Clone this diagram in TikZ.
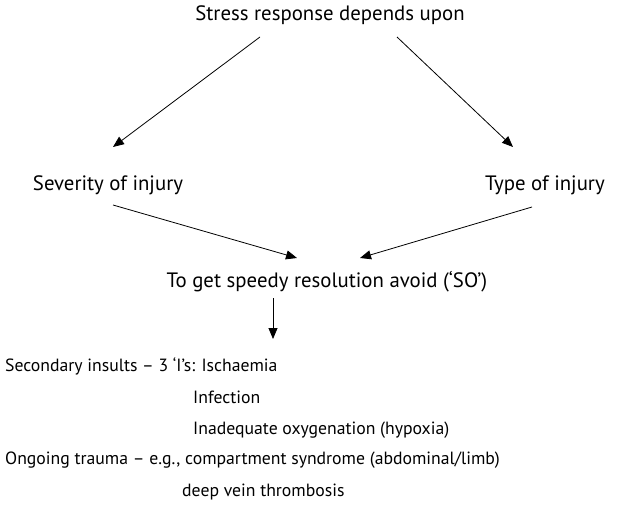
\documentclass[tikz,border=0pt]{standalone}
\usepackage{fontspec}
\setmainfont{PT Sans}
\usetikzlibrary{arrows.meta}

\begin{document}
\begin{tikzpicture}[x=1pt, y=-1pt,
    lbl/.style={inner sep=0pt, font=\fontsize{20.8}{24}\selectfont},
    item/.style={inner sep=0pt, anchor=west, font=\fontsize{17.7}{21}\selectfont},
    arr/.style={-{Triangle[length=11pt, width=9pt]}, line width=0.8pt}]

    \useasboundingbox (0,0) rectangle (619,508);

    % 标题与两个因素
    \node[lbl] (stress) at (330,15) {Stress response depends upon};
    \node[lbl] (severity) at (108,185) {Severity of injury};
    \node[lbl] (type) at (545,185) {Type of injury};
    \node[lbl] (speedy) at (327,282) {To get speedy resolution avoid (‘SO’)};

    % 箭头的端点
    \coordinate (s1) at (260,37);
    \coordinate (s2) at (397,37);
    \coordinate (t1) at (113,147);
    \coordinate (t2) at (513,147);
    \coordinate (u1) at (113,205);
    \coordinate (u2) at (532,207);
    \coordinate (v1) at (297,258);
    \coordinate (v2) at (360,258);
    \coordinate (w1) at (273,298);
    \coordinate (w2) at (273,339);

    \draw[arr] (s1) -- (t1);
    \draw[arr] (s2) -- (t2);
    \draw[arr] (u1) -- (v1);
    \draw[arr] (u2) -- (v2);
    \draw[arr] (w1) -- (w2);

    % 下方列表
    \node[item] (insults) at (5,366) {Secondary insults – 3 ‘I’s: Ischaemia};
    \node[item] (infection) at (193,397) {Infection};
    \node[item] (hypoxia) at (193,430) {Inadequate oxygenation (hypoxia)};
    \node[item] (trauma) at (5,460) {Ongoing trauma – e.g., compartment syndrome (abdominal/limb)};
    \node[item] (dvt) at (182,492) {deep vein thrombosis};

\end{tikzpicture}
\end{document}
